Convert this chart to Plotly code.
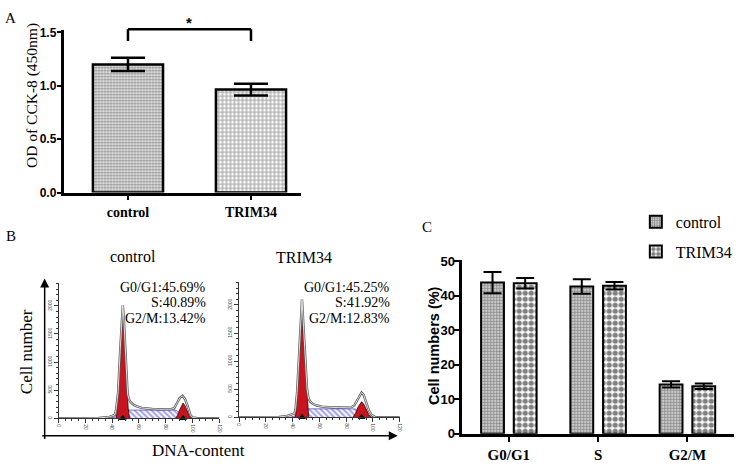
import plotly.graph_objects as go

W, H = 740, 467

# ---------------- data ----------------
# Panel A: CCK-8
a_groups = ["control", "TRIM34"]
a_od = [1.20, 0.965]
a_od_sem = [0.062, 0.055]

# Panel C: cell-cycle distribution (%)
phases = ["G0/G1", "S", "G2/M"]
c_control = [43.8, 42.7, 14.3]
c_control_sem = [3.1, 2.1, 0.9]
c_trim34 = [43.6, 42.9, 13.8]
c_trim34_sem = [1.5, 1.1, 0.8]

# Panel B: flow cytometry DNA histograms (channel, cell count)
hist_titles = ["control", "TRIM34"]
phase_text_control = ["G0/G1:45.69%", "S:40.89%", "G2/M:13.42%"]
phase_text_trim34 = ["G0/G1:45.25%", "S:41.92%", "G2/M:12.83%"]

ctrl_env_ch = [0, 30, 38, 42, 43, 43.8, 44.5, 46, 47.2, 48, 48.8, 50.2, 51, 51.6, 52.5, 54, 56, 58, 62, 66, 70, 75, 80, 84, 86.4, 88.5, 90.5, 92.6, 94.5, 96.5, 98.5, 100, 104, 120]
ctrl_env_n = [0, 5, 25, 60, 160, 300, 470, 1200, 1800, 2016, 1750, 1150, 700, 430, 340, 280, 240, 215, 185, 170, 165, 160, 160, 162, 180, 270, 360, 400, 340, 210, 60, 15, 0, 0]
ctrl_s_ch = [38, 44, 48, 51, 53, 86, 88, 91, 95, 98]
ctrl_s_n = [0, 30, 60, 130, 145, 145, 140, 90, 30, 0]
ctrl_g1_ch = [43, 43.8, 44.5, 45.3, 46, 47, 47.8, 48.5, 49.4, 50.2, 51.0, 52.0, 53.0]
ctrl_g1_n = [0, 130, 430, 800, 1180, 1600, 1850, 1700, 1400, 1100, 600, 180, 0]
ctrl_g2_ch = [87.5, 89, 90.5, 92, 93, 94.5, 96, 97.5, 99.5]
ctrl_g2_n = [0, 60, 150, 240, 270, 220, 130, 50, 0]
ctrl_peaks = [48, 93]

trim_env_ch = [0, 30, 36, 40, 41.5, 42.2, 43.3, 45, 46.2, 47, 47.8, 48.9, 50, 50.8, 51.9, 53.5, 55, 58, 62, 66, 70, 75, 80, 84, 86, 88, 90, 91.5, 93, 95, 97, 99, 102, 120]
trim_env_n = [0, 5, 25, 55, 70, 160, 440, 1200, 1800, 2100, 1750, 1200, 800, 500, 330, 270, 240, 210, 190, 180, 175, 175, 175, 180, 210, 300, 400, 440, 400, 260, 120, 40, 0, 0]
trim_s_ch = [38, 43, 47, 50, 52, 85, 87, 90, 94, 97]
trim_s_n = [0, 30, 60, 130, 150, 150, 145, 90, 30, 0]
trim_g1_ch = [42, 42.6, 43.3, 44.2, 45, 46, 46.8, 47.5, 48.2, 48.9, 49.8, 50.7, 51.5, 52]
trim_g1_n = [0, 125, 415, 800, 1165, 1550, 1770, 1650, 1400, 1165, 800, 415, 100, 0]
trim_g2_ch = [85, 87, 89, 91.5, 93, 95, 97, 99]
trim_g2_n = [0, 70, 190, 275, 240, 130, 40, 0]
trim_peaks = [47, 91.5]

SERIF = "Liberation Serif"
SANS = "Liberation Sans"
RED = "#c8141e"


def px(xp):
    return xp / W


def py(yp):
    return 1 - yp / H


fig = go.Figure()

# ---------------- Panel A ----------------
fig.add_trace(go.Bar(
    x=a_groups, y=a_od, xaxis="x", yaxis="y", showlegend=False,
    width=0.57, offset=-0.285,
    marker=dict(
        color="white",
        line=dict(color="black", width=2.5),
        pattern=dict(shape=[".", "+"], size=[3, 4], solidity=[0.6, 0.5],
                     fgcolor=["#222222", "#444444"], bgcolor="white", fillmode="overlay"),
    ),
    error_y=dict(type="data", array=a_od_sem, color="black", thickness=2.5, width=17),
))

# ---------------- Panel B histograms ----------------
def add_hist(xa, ya, env_ch, env_n, s_ch, s_n, g1_ch, g1_n, g2_ch, g2_n, peaks):
    fig.add_trace(go.Scatter(
        x=s_ch, y=s_n, xaxis=xa, yaxis=ya, mode="lines", fill="tozeroy",
        line=dict(color="#5555cc", width=0.8),
        fillpattern=dict(shape="\\", fgcolor="#3c3ce0", bgcolor="white", size=4, solidity=0.5),
        showlegend=False, hoverinfo="skip"))
    for cx, cn in ((g1_ch, g1_n), (g2_ch, g2_n)):
        fig.add_trace(go.Scatter(
            x=cx, y=cn, xaxis=xa, yaxis=ya, mode="lines", fill="tozeroy",
            fillcolor=RED, line=dict(color="#300000", width=0.8),
            showlegend=False, hoverinfo="skip"))
    fig.add_trace(go.Scatter(
        x=env_ch, y=env_n, xaxis=xa, yaxis=ya, mode="lines",
        line=dict(color="#5a5a5a", width=2.4), showlegend=False, hoverinfo="skip"))
    fig.add_trace(go.Scatter(
        x=env_ch, y=env_n, xaxis=xa, yaxis=ya, mode="lines",
        line=dict(color="white", width=0.8), showlegend=False, hoverinfo="skip"))
    fig.add_trace(go.Scatter(
        x=peaks, y=[0] * len(peaks), xaxis=xa, yaxis=ya, mode="markers",
        marker=dict(symbol="triangle-up", size=7, color="black"),
        cliponaxis=False, showlegend=False, hoverinfo="skip"))


add_hist("x2", "y2", ctrl_env_ch, ctrl_env_n, ctrl_s_ch, ctrl_s_n,
         ctrl_g1_ch, ctrl_g1_n, ctrl_g2_ch, ctrl_g2_n, ctrl_peaks)
add_hist("x3", "y3", trim_env_ch, trim_env_n, trim_s_ch, trim_s_n,
         trim_g1_ch, trim_g1_n, trim_g2_ch, trim_g2_n, trim_peaks)

# ---------------- Panel C ----------------
fig.add_trace(go.Bar(
    x=phases, y=c_control, name="control", xaxis="x4", yaxis="y4",
    width=0.256, offset=-0.311, legendgroup="a",
    marker=dict(color="white", line=dict(color="black", width=2),
                pattern=dict(shape=".", size=3, solidity=0.7, fgcolor="#1a1a1a",
                             bgcolor="white", fillmode="overlay")),
    error_y=dict(type="data", array=c_control_sem, color="black", thickness=2, width=9),
))
fig.add_trace(go.Bar(
    x=phases, y=c_trim34, name="TRIM34", xaxis="x4", yaxis="y4",
    width=0.256, offset=0.055, legendgroup="b",
    marker=dict(color="white", line=dict(color="black", width=2),
                pattern=dict(shape=".", size=6, solidity=0.6, fgcolor="black",
                             bgcolor="white", fillmode="overlay")),
    error_y=dict(type="data", array=c_trim34_sem, color="black", thickness=2, width=9),
))

# ---------------- axes ----------------
bold_axis = dict(showline=True, linecolor="black", linewidth=2.5, ticks="outside",
                 ticklen=5, tickwidth=2, tickcolor="black", showgrid=False, zeroline=False)

hist_x = dict(showline=True, linecolor="#333333", linewidth=1, ticks="outside", ticklen=4,
              tickwidth=1, tickcolor="#333333", showgrid=False, zeroline=False,
              range=[0, 120], tickvals=[0, 20, 40, 60, 80, 100, 120], tickangle=90,
              tickfont=dict(family=SANS, size=5, color="#444444"),
              minor=dict(dtick=5, ticklen=2, ticks="outside", tickcolor="#333333"))
hist_y = dict(showline=True, linecolor="#333333", linewidth=1, ticks="outside", ticklen=4,
              tickwidth=1, tickcolor="#333333", showgrid=False, zeroline=False,
              range=[0, 2400], tickvals=[0, 500, 1000, 1500, 2000], tickangle=-90,
              tickfont=dict(family=SANS, size=5, color="#444444"),
              minor=dict(dtick=100, ticklen=2, ticks="outside", tickcolor="#333333"))

fig.update_layout(
    width=W, height=H, margin=dict(l=0, r=0, t=0, b=0),
    paper_bgcolor="white", plot_bgcolor="white", barmode="overlay",
    xaxis=dict(domain=[px(62), px(300)], range=[-0.516, 1.403], anchor="y",
               tickfont=dict(family=SERIF, size=14, color="black", weight="bold"), **bold_axis),
    yaxis=dict(domain=[py(192.3), py(25)], range=[0, 1.52], anchor="x",
               tickvals=[0, 0.5, 1.0, 1.5], tickformat=".1f", ticklabelstandoff=-2,
               tickfont=dict(family=SANS, size=12, color="black", weight="bold"), **bold_axis),
    xaxis2=dict(domain=[px(56), px(218)], anchor="y2", **hist_x),
    yaxis2=dict(domain=[py(425), py(286)], anchor="x2", **hist_y),
    xaxis3=dict(domain=[px(238), px(400)], anchor="y3", **hist_x),
    yaxis3=dict(domain=[py(424), py(285)], anchor="x3", **hist_y),
    xaxis4=dict(domain=[px(463), px(737)], range=[-0.522, 2.522], anchor="y4",
                tickfont=dict(family=SERIF, size=15, color="black", weight="bold"), **bold_axis),
    yaxis4=dict(domain=[py(441), py(262)], range=[0, 50.3], anchor="x4",
                tickvals=[0, 10, 20, 30, 40, 50], ticklabelstandoff=-3,
                tickfont=dict(family=SANS, size=13, color="black", weight="bold"), **bold_axis),
    legend=dict(x=px(638), y=py(205), xanchor="left", yanchor="top",
                font=dict(family=SERIF, size=16, color="black"),
                bgcolor="rgba(0,0,0,0)", tracegroupgap=6, itemwidth=30),
    showlegend=True,
)

# ---------------- annotations ----------------
ann = []


def text(t, x, y, size, family=SERIF, angle=0, anchor="center", weight="normal"):
    ann.append(dict(text=t, x=px(x), y=py(y), xref="paper", yref="paper",
                    xanchor=anchor, yanchor="middle", showarrow=False, textangle=angle,
                    font=dict(family=family, size=size, color="black", weight=weight)))


text("A", 8, 12, 15)
text("B", 8, 237, 15)
text("C", 427, 228, 15)
text("OD of CCK-8 (450nm)", 29, 92, 15.5, angle=-90)
text("Cell numbers (%)", 434, 350, 14.5, family=SANS, angle=-90, weight="bold")
text(hist_titles[0], 131, 258, 16)
text(hist_titles[1], 303, 259, 16)
text("Cell number", 24, 356, 17, angle=-90)
text("DNA-content", 197, 458, 17)
for i, ypos in enumerate([290, 306, 322]):
    text(phase_text_control[i], 207, ypos, 14, anchor="right")
    text(phase_text_trim34[i], 392, ypos, 14, anchor="right")

# significance star
ann.append(dict(text="*", x=0.5, y=py(17), xref="x", yref="paper", showarrow=False,
                xanchor="center", yanchor="middle",
                font=dict(family=SANS, size=15, color="black", weight="bold")))

# big axis arrows of panel B
ann.append(dict(x=px(42), y=py(281), xref="paper", yref="paper", text="", showarrow=True,
                ax=0, ay=162, axref="pixel", ayref="pixel", arrowhead=2, arrowsize=1.2,
                arrowwidth=1.5, arrowcolor="black"))
ann.append(dict(x=px(398), y=py(443), xref="paper", yref="paper", text="", showarrow=True,
                ax=-357, ay=0, axref="pixel", ayref="pixel", arrowhead=2, arrowsize=1.2,
                arrowwidth=1.5, arrowcolor="black"))
fig.update_layout(annotations=ann)

# significance bracket
for x0, y0, x1, y1 in [(0, 36, 0, 24), (0, 24, 1, 24), (1, 24, 1, 36)]:
    fig.add_shape(type="line", xref="x", yref="paper", x0=x0, x1=x1, y0=py(y0), y1=py(y1),
                  line=dict(color="black", width=2.5))

# remove the browser's default page margin so the figure fills the window exactly
fig.write_html("out.html", config={"displayModeBar": False},
               post_script="document.body.style.margin='0';")
